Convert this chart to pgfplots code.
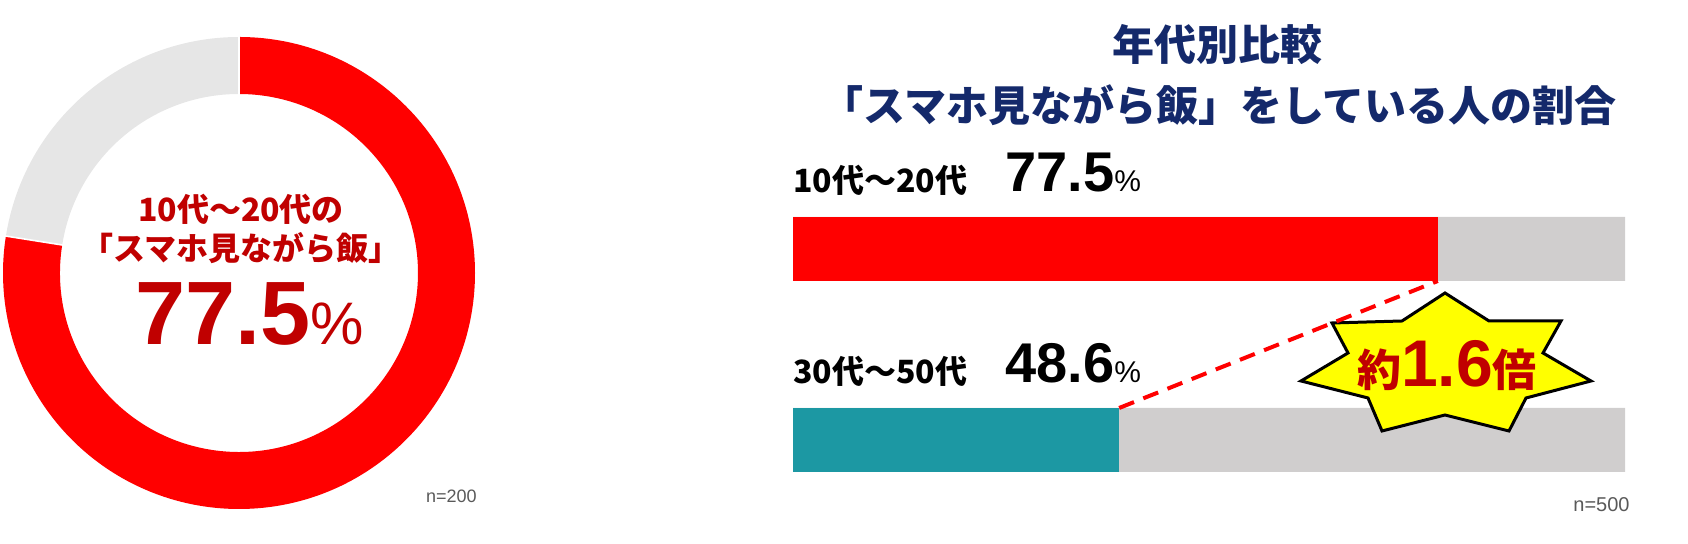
\documentclass[border=0pt]{standalone}
\usepackage{fontspec}
\setmainfont{Liberation Sans}
\newfontfamily\jp{Noto Sans CJK JP}
\usepackage{pgfplots}
\pgfplotsset{compat=1.18}
\usepackage{pgfplotstable}

\definecolor{barred}{HTML}{FF0000}
\definecolor{darkred}{HTML}{C00000}
\definecolor{tealbar}{HTML}{1C98A3}
\definecolor{track}{HTML}{D0CECE}
\definecolor{ringgray}{HTML}{E6E6E6}
\definecolor{navy}{HTML}{14296B}
\definecolor{notegray}{HTML}{595959}
\definecolor{staryellow}{HTML}{FFFF00}

% donut: share of 10s-20s
\pgfplotstableread{
part value
yes  77.5
no   22.5
}\donutdata

% bars: pos = bar centre (px from bottom), share as drawn, total track
% (the lower label reads 48.6%, the drawn bar stops at about 39.2%)
\pgfplotstableread{
pos share total
295 77.5  100
104 39.2  100
}\bardata

\begin{document}
\begin{tikzpicture}[x=1pt,y=1pt]
\useasboundingbox (0,0) rectangle (844,272);

\pgfplotstablegetelem{0}{value}\of\donutdata
\pgfmathsetmacro\ea{90-3.6*\pgfplotsretval}

\begin{axis}[at={(1.5pt,17.5pt)}, anchor=south west, scale only axis,
  width=236pt, height=236pt, xmin=-1, xmax=1, ymin=-1, ymax=1,
  hide axis, clip=false]
  \fill[barred] (axis cs:0,0) ++(90:118pt) arc[start angle=90, end angle=\ea, radius=118pt]
    -- ++(\ea:-28.5pt) arc[start angle=\ea, end angle=90, radius=89.5pt] -- cycle;
  \fill[ringgray] (axis cs:0,0) ++(\ea:118pt) arc[start angle=\ea, end angle=-270, radius=118pt]
    -- ++(90:-28.5pt) arc[start angle=-270, end angle=\ea, radius=89.5pt] -- cycle;
  \draw[white, line width=0.8pt] (axis cs:0,0) ++(90:89pt) -- ++(90:30pt);
  \draw[white, line width=0.8pt] (axis cs:0,0) ++(\ea:89pt) -- ++(\ea:30pt);
\end{axis}

\node[text=darkred, font=\jp\bfseries\fontsize{16}{16}\selectfont] at (120.5,167.5) {10代～20代の};
\node[text=darkred, font=\jp\bfseries\fontsize{16}{16}\selectfont] at (120.5,148) {「スマホ見ながら飯」};
\node[text=darkred, anchor=base, inner sep=0] at (125,99.5)
  {\bfseries\fontsize{45}{45}\selectfont 77.5{\mdseries\fontsize{30}{30}\selectfont\%}};
\node[text=notegray, anchor=base east, inner sep=0] at (238.5,20.5) {\fontsize{9}{9}\selectfont n=200};

\begin{axis}[at={(396.5pt,0pt)}, anchor=south west, scale only axis,
  width=416pt, height=272pt, xmin=0, xmax=100, ymin=0, ymax=544,
  hide axis, clip=false, xbar, bar width=32pt, bar shift=0pt]
  \addplot[fill=track, draw=none] table[x=total, y=pos] {\bardata};
  \addplot[fill=barred, draw=none, skip coords between index={1}{2}] table[x=share, y=pos] {\bardata};
  \addplot[fill=tealbar, draw=none, skip coords between index={0}{1}] table[x=share, y=pos] {\bardata};
  \coordinate (redend) at (axis cs:77.5,263);
  \coordinate (tealend) at (axis cs:39.2,136);
\end{axis}

% title
\node[text=navy, font=\jp\bfseries\fontsize{21}{21}\selectfont] at (608.5,249.5) {年代別比較};
\node[text=navy, font=\jp\bfseries\fontsize{21}{21}\selectfont] at (609.5,219.5) {「スマホ見ながら飯」をしている人の割合};

% row labels
\node[anchor=west, inner sep=0, font=\jp\bfseries\fontsize{16}{16}\selectfont] at (396.5,182) {10代～20代};
\node[anchor=base west, inner sep=0] at (502.5,176)
  {\bfseries\fontsize{28}{28}\selectfont 77.5{\mdseries\fontsize{15}{15}\selectfont\%}};
\node[anchor=west, inner sep=0, font=\jp\bfseries\fontsize{16}{16}\selectfont] at (396.5,86.5) {30代～50代};
\node[anchor=base west, inner sep=0] at (502.5,80.5)
  {\bfseries\fontsize{28}{28}\selectfont 48.6{\mdseries\fontsize{15}{15}\selectfont\%}};

% star callout
\filldraw[fill=staryellow, draw=black, line width=1.5pt, line join=miter]
  (722.5,125.5) -- (744.5,111.5) -- (780.5,111.5) -- (771.5,95.5) -- (795.5,81.5)
  -- (763,73) -- (754.5,56.5) -- (722.5,64.5) -- (691,56.5) -- (684,73)
  -- (650.5,81.5) -- (674,95.5) -- (666,110.5) -- (701,111.5) -- cycle;
\node[text=darkred, anchor=base, inner sep=0] at (723.5,78.5)
  {{\jp\bfseries\fontsize{22}{22}\selectfont 約}{\bfseries\fontsize{33}{33}\selectfont 1.6}{\jp\bfseries\fontsize{22}{22}\selectfont 倍}};

\draw[barred, line width=2pt, dash pattern=on 8pt off 5pt] (tealend) -- (redend);

\node[text=notegray, anchor=base east, inner sep=0] at (815,16) {\fontsize{10}{10}\selectfont n=500};
\end{tikzpicture}
\end{document}
